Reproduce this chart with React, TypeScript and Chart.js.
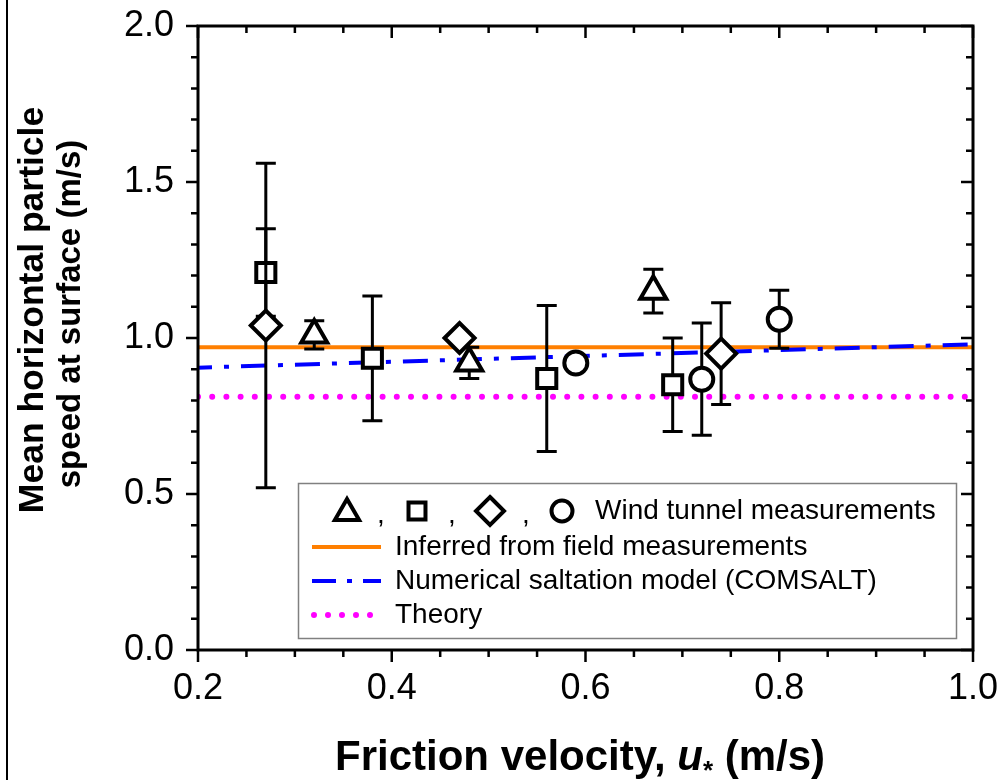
import React, { useEffect, useRef } from 'react';
import { Chart, registerables } from 'chart.js';

Chart.register(...registerables);

// ---------- data ----------
const xRange = [0.2, 1.0];
const triX = [0.32, 0.48, 0.67];
const triY = [1.01, 0.92, 1.15];
const triErr = [0.045, 0.05, 0.07];
const sqX = [0.27, 0.38, 0.56, 0.69];
const sqY = [1.21, 0.935, 0.87, 0.85];
const sqErr = [0.14, 0.2, 0.234, 0.15];
const diaX = [0.27, 0.47, 0.74];
const diaY = [1.04, 1.0, 0.95];
const diaErr = [0.52, 0, 0.163];
const cirX = [0.59, 0.72, 0.8];
const cirY = [0.92, 0.868, 1.06];
const cirErr = [0, 0.18, 0.093];
const fieldY = [0.97, 0.97];
const comsaltY = [0.905, 0.98];
const theoryY = [0.812, 0.812];
const xMajorTicks = [0.2, 0.4, 0.6, 0.8, 1.0];
const yMajorTicks = [0.0, 0.5, 1.0, 1.5, 2.0];
const legendLabels = [
  'Wind tunnel measurements',
  'Inferred from field measurements',
  'Numerical saltation model (COMSALT)',
  'Theory',
];
const yTitle = ['Mean horizontal particle', 'speed at surface (m/s)'];
const xTitleParts = ['Friction velocity, ', 'u', '*', ' (m/s)'];

const FONT = '"Liberation Sans", Arial, sans-serif';
const ORANGE = '#ff7f00';
const BLUE = '#0000ff';
const MAGENTA = '#ff00ff';

// plot-area frame in page pixels
const AREA = { left: 198, top: 26, right: 973, bottom: 650 };

const pts = (xs: number[], ys: number[]) => xs.map((x, i) => ({ x, y: ys[i] }));

function drawMarker(ctx: CanvasRenderingContext2D, style: string, x: number, y: number, r: number) {
  ctx.save();
  ctx.fillStyle = '#fff';
  ctx.strokeStyle = '#000';
  ctx.lineWidth = 4;
  ctx.lineJoin = 'miter';
  ctx.beginPath();
  if (style === 'triangle') {
    for (let k = 0; k < 3; k++) {
      const a = (k * 2 * Math.PI) / 3;
      const px = x + Math.sin(a) * r;
      const py = y - Math.cos(a) * r;
      if (k === 0) ctx.moveTo(px, py);
      else ctx.lineTo(px, py);
    }
    ctx.closePath();
  } else if (style === 'rect') {
    const s = Math.SQRT1_2 * r;
    ctx.rect(x - s, y - s, 2 * s, 2 * s);
  } else if (style === 'rectRot') {
    ctx.moveTo(x, y - r);
    ctx.lineTo(x + r, y);
    ctx.lineTo(x, y + r);
    ctx.lineTo(x - r, y);
    ctx.closePath();
  } else {
    ctx.arc(x, y, r, 0, Math.PI * 2);
  }
  ctx.fill();
  ctx.stroke();
  ctx.restore();
}

const areaPlugin = {
  id: 'fixedArea',
  afterLayout(chart: any) {
    const ca = chart.chartArea;
    ca.left = AREA.left;
    ca.right = AREA.right;
    ca.top = AREA.top;
    ca.bottom = AREA.bottom;
    ca.width = AREA.right - AREA.left;
    ca.height = AREA.bottom - AREA.top;
    const xs = chart.scales.x;
    xs.left = AREA.left;
    xs.right = AREA.right;
    xs.width = AREA.right - AREA.left;
    xs.top = AREA.bottom;
    xs.bottom = AREA.bottom + 130;
    xs.configure();
    const ys = chart.scales.y;
    ys.top = AREA.top;
    ys.bottom = AREA.bottom;
    ys.height = AREA.bottom - AREA.top;
    ys.left = 0;
    ys.right = AREA.left;
    ys.configure();
  },
};

const errorBarPlugin = {
  id: 'errorBars',
  beforeDatasetDraw(chart: any, args: any) {
    const ds = chart.data.datasets[args.index];
    if (!ds.errors) return;
    const ctx = chart.ctx;
    const ys = chart.scales.y;
    ctx.save();
    ctx.strokeStyle = '#000';
    ctx.lineWidth = 3;
    args.meta.data.forEach((el: any, i: number) => {
      const e = ds.errors[i];
      if (!e) return;
      const v = ds.data[i].y;
      const top = ys.getPixelForValue(v + e);
      const bot = ys.getPixelForValue(v - e);
      const x = el.x;
      ctx.beginPath();
      ctx.moveTo(x, top);
      ctx.lineTo(x, bot);
      ctx.moveTo(x - 10, top);
      ctx.lineTo(x + 10, top);
      ctx.moveTo(x - 10, bot);
      ctx.lineTo(x + 10, bot);
      ctx.stroke();
    });
    ctx.restore();
  },
};

const decorPlugin = {
  id: 'decor',
  afterDraw(chart: any) {
    const ctx: CanvasRenderingContext2D = chart.ctx;
    const { left, right, top, bottom } = chart.chartArea;
    const xs = chart.scales.x;
    const ys = chart.scales.y;
    ctx.save();
    // page frame line on the left
    ctx.fillStyle = '#000';
    ctx.fillRect(6, 0, 2, chart.height);

    // axis frame
    ctx.strokeStyle = '#000';
    ctx.lineWidth = 3;
    ctx.strokeRect(left, top, right - left, bottom - top);

    // ticks
    ctx.lineWidth = 2.5;
    ctx.beginPath();
    for (let i = 0; i <= 16; i++) {
      const v = 0.2 + i * 0.05;
      const major = i % 4 === 0;
      const L = major ? 12 : 7;
      const px = xs.getPixelForValue(v);
      ctx.moveTo(px, bottom);
      ctx.lineTo(px, bottom + L);
      ctx.moveTo(px, top);
      ctx.lineTo(px, top + L);
    }
    for (let i = 0; i <= 20; i++) {
      const v = i * 0.1;
      const major = i % 5 === 0;
      const L = major ? 12 : 7;
      const py = ys.getPixelForValue(v);
      ctx.moveTo(left, py);
      ctx.lineTo(left - L, py);
      ctx.moveTo(right, py);
      ctx.lineTo(right - L, py);
    }
    ctx.stroke();

    // y title
    ctx.fillStyle = '#000';
    ctx.textAlign = 'center';
    ctx.textBaseline = 'middle';
    ctx.save();
    ctx.font = `bold 35.5px ${FONT}`;
    ctx.translate(33, 310);
    ctx.rotate(-Math.PI / 2);
    ctx.fillText(yTitle[0], 0, 0);
    ctx.restore();
    ctx.save();
    ctx.font = `bold 33px ${FONT}`;
    ctx.translate(71, 314);
    ctx.rotate(-Math.PI / 2);
    ctx.fillText(yTitle[1], 0, 0);
    ctx.restore();

    // x title
    ctx.textAlign = 'left';
    ctx.textBaseline = 'alphabetic';
    const fBold = `bold 42px ${FONT}`;
    const fIt = `italic bold 42px ${FONT}`;
    const fSub = `bold 26px ${FONT}`;
    ctx.font = fBold;
    const w0 = ctx.measureText(xTitleParts[0]).width;
    ctx.font = fIt;
    const w1 = ctx.measureText(xTitleParts[1]).width;
    ctx.font = fSub;
    const w2 = ctx.measureText(xTitleParts[2]).width;
    let cx = 335;
    const base = 770;
    ctx.font = fBold;
    ctx.fillText(xTitleParts[0], cx, base);
    cx += w0;
    ctx.font = fIt;
    ctx.fillText(xTitleParts[1], cx, base);
    cx += w1;
    ctx.font = fSub;
    ctx.fillText(xTitleParts[2], cx, base + 9);
    cx += w2;
    ctx.font = fBold;
    ctx.fillText(xTitleParts[3], cx, base);

    // legend
    const bx = 298.5, by = 483.5, bw = 658, bh = 155;
    ctx.fillStyle = '#fff';
    ctx.fillRect(bx, by, bw, bh);
    ctx.strokeStyle = '#808080';
    ctx.lineWidth = 1.5;
    ctx.strokeRect(bx, by, bw, bh);

    const rowY = [511, 547, 581, 615];
    drawMarker(ctx, 'triangle', 347, rowY[0] + 2, 14);
    drawMarker(ctx, 'rect', 417, rowY[0], 12);
    drawMarker(ctx, 'rectRot', 490, rowY[0], 14);
    drawMarker(ctx, 'circle', 562, rowY[0], 10.5);
    ctx.fillStyle = '#000';
    ctx.font = `28px ${FONT}`;
    ctx.textBaseline = 'middle';
    ctx.textAlign = 'center';
    ctx.fillText(',', 381, rowY[0] + 4);
    ctx.fillText(',', 452, rowY[0] + 4);
    ctx.fillText(',', 526, rowY[0] + 4);
    ctx.textAlign = 'left';
    ctx.fillText(legendLabels[0], 595, rowY[0]);
    ctx.fillText(legendLabels[1], 395, rowY[1]);
    ctx.fillText(legendLabels[2], 395, rowY[2]);
    ctx.fillText(legendLabels[3], 395, rowY[3]);

    // legend line samples
    ctx.lineWidth = 4;
    ctx.strokeStyle = ORANGE;
    ctx.beginPath();
    ctx.moveTo(312, rowY[1]);
    ctx.lineTo(381, rowY[1]);
    ctx.stroke();
    ctx.strokeStyle = BLUE;
    ctx.setLineDash([24, 11, 5, 11]);
    ctx.beginPath();
    ctx.moveTo(312, rowY[2]);
    ctx.lineTo(381, rowY[2]);
    ctx.stroke();
    ctx.setLineDash([0, 14]);
    ctx.lineCap = 'round';
    ctx.lineWidth = 6;
    ctx.strokeStyle = MAGENTA;
    ctx.beginPath();
    ctx.moveTo(314, rowY[3]);
    ctx.lineTo(372, rowY[3]);
    ctx.stroke();
    ctx.restore();
  },
};

export default function App() {
  const ref = useRef<HTMLCanvasElement | null>(null);
  useEffect(() => {
    document.body.style.margin = '0';
    const canvas = ref.current!;
    const markerCommon = {
      type: 'scatter' as const,
      backgroundColor: '#ffffff',
      borderColor: '#000000',
      borderWidth: 4,
      showLine: false,
    };
    const chart = new Chart(canvas, {
      type: 'scatter',
      data: {
        datasets: [
          {
            type: 'line',
            data: pts(xRange, fieldY),
            borderColor: ORANGE,
            borderWidth: 4,
            pointRadius: 0,
            order: 10,
          } as any,
          {
            type: 'line',
            data: pts(xRange, comsaltY),
            borderColor: BLUE,
            borderWidth: 4,
            borderDash: [25, 12, 5, 12],
            borderDashOffset: 11,
            pointRadius: 0,
            order: 9,
          },
          {
            type: 'line',
            data: pts(xRange, theoryY),
            borderColor: MAGENTA,
            borderWidth: 6,
            borderDash: [0, 14.2],
            borderCapStyle: 'round',
            pointRadius: 0,
            order: 8,
          },
          { ...markerCommon, data: pts(triX, triY), errors: triErr, pointStyle: 'triangle', pointRadius: 15, order: 4 },
          { ...markerCommon, data: pts(sqX, sqY), errors: sqErr, pointStyle: 'rect', pointRadius: 13.5, order: 3 },
          { ...markerCommon, data: pts(diaX, diaY), errors: diaErr, pointStyle: 'rectRot', pointRadius: 15, order: 2 },
          { ...markerCommon, data: pts(cirX, cirY), errors: cirErr, pointStyle: 'circle', pointRadius: 11.5, order: 1 },
        ] as any,
      },
      options: {
        animation: false,
        responsive: false,
        maintainAspectRatio: false,
        devicePixelRatio: 1,
        layout: { padding: { top: 26, right: 29, left: 0, bottom: 0 } },
        plugins: { legend: { display: false }, tooltip: { enabled: false } },
        elements: { point: { hoverRadius: 0 } },
        scales: {
          x: {
            type: 'linear',
            min: 0.2,
            max: 1.0,
            afterBuildTicks: (s: any) => {
              s.ticks = xMajorTicks.map((v) => ({ value: v }));
            },
            ticks: {
              color: '#000',
              font: { family: FONT, size: 36 },
              padding: 17,
              maxRotation: 0,
              callback: (v: any) => Number(v).toFixed(1),
            },
            grid: { display: false, drawTicks: false },
            border: { display: false },
            afterFit: (s: any) => {
              s.height = 130;
            },
          },
          y: {
            type: 'linear',
            min: 0,
            max: 2,
            afterBuildTicks: (s: any) => {
              s.ticks = yMajorTicks.map((v) => ({ value: v }));
            },
            ticks: {
              color: '#000',
              font: { family: FONT, size: 36 },
              padding: 24,
              callback: (v: any) => Number(v).toFixed(1),
            },
            grid: { display: false, drawTicks: false },
            border: { display: false },
            afterFit: (s: any) => {
              s.width = 198;
            },
          },
        },
      },
      plugins: [areaPlugin, errorBarPlugin, decorPlugin],
    } as any);
    return () => chart.destroy();
  }, []);
  return (
    <div style={{ width: 1002, height: 780, position: 'relative', background: '#fff' }}>
      <canvas ref={ref} width={1002} height={780} style={{ display: 'block', width: 1002, height: 780 }} />
    </div>
  );
}
